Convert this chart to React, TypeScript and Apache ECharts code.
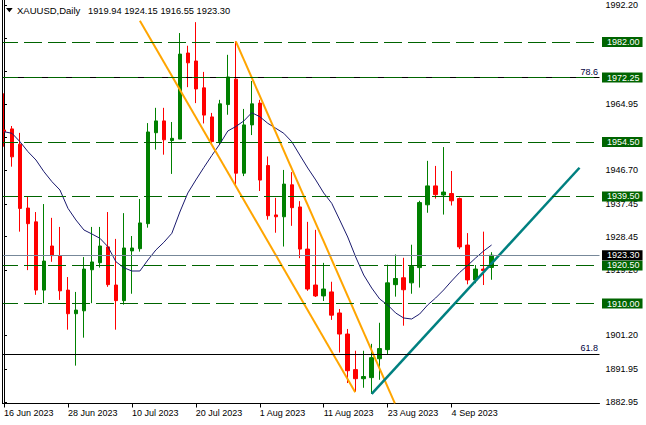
import { useEffect, useRef } from "react";
import * as echarts from "echarts";

// ---- data ----
const symbol = "XAUUSD";
const timeframe = "Daily";

const dates = [
  "16 Jun 2023", "19 Jun 2023", "20 Jun 2023", "21 Jun 2023", "22 Jun 2023", "23 Jun 2023", "26 Jun 2023", "27 Jun 2023",
  "28 Jun 2023", "29 Jun 2023", "30 Jun 2023", "3 Jul 2023", "4 Jul 2023", "5 Jul 2023", "6 Jul 2023", "7 Jul 2023",
  "10 Jul 2023", "11 Jul 2023", "12 Jul 2023", "13 Jul 2023", "14 Jul 2023", "17 Jul 2023", "18 Jul 2023", "19 Jul 2023",
  "20 Jul 2023", "21 Jul 2023", "24 Jul 2023", "25 Jul 2023", "26 Jul 2023", "27 Jul 2023", "28 Jul 2023", "31 Jul 2023",
  "1 Aug 2023", "2 Aug 2023", "3 Aug 2023", "4 Aug 2023", "7 Aug 2023", "8 Aug 2023", "9 Aug 2023", "10 Aug 2023",
  "11 Aug 2023", "14 Aug 2023", "15 Aug 2023", "16 Aug 2023", "17 Aug 2023", "18 Aug 2023", "21 Aug 2023", "22 Aug 2023",
  "23 Aug 2023", "24 Aug 2023", "25 Aug 2023", "28 Aug 2023", "29 Aug 2023", "30 Aug 2023", "31 Aug 2023", "1 Sep 2023",
  "4 Sep 2023", "5 Sep 2023", "6 Sep 2023", "7 Sep 2023", "8 Sep 2023", "11 Sep 2023",
];
const emptySlots = 13;

const opens = [
  1957.8, 1958.1, 1953.9, 1936.3, 1932.5, 1913.7, 1925.85, 1923.2, 1913.7, 1907.2,
  1908.0, 1919.3, 1921.25, 1925.6, 1915.1, 1910.8, 1924.5, 1925.1, 1932.0, 1957.05,
  1960.3, 1954.9, 1955.3, 1979.0, 1976.8, 1969.4, 1961.4, 1954.6, 1964.8, 1971.8,
  1945.9, 1959.2, 1965.2, 1948.0, 1934.4, 1933.9, 1942.7, 1936.6, 1925.0, 1915.1,
  1912.1, 1913.2, 1907.4, 1901.6, 1891.8, 1889.3, 1889.6, 1894.8, 1897.3, 1915.2,
  1917.1, 1915.7, 1919.9, 1937.2, 1942.4, 1939.9, 1940.3, 1938.9, 1926.1, 1916.5,
  1919.5, 1919.94,
];
const highs = [
  1967.9, 1958.9, 1957.0, 1939.4, 1935.2, 1937.4, 1933.6, 1931.1, 1917.3, 1913.2,
  1922.8, 1931.1, 1931.1, 1935.2, 1927.8, 1934.9, 1928.6, 1938.8, 1959.7, 1963.9,
  1963.9, 1960.0, 1984.5, 1981.0, 1987.5, 1973.8, 1962.5, 1966.1, 1978.5, 1982.2,
  1963.6, 1971.3, 1966.1, 1950.5, 1939.1, 1946.8, 1946.2, 1938.2, 1932.5, 1930.3,
  1921.2, 1916.0, 1908.5, 1903.0, 1897.0, 1897.0, 1898.9, 1904.7, 1920.7, 1923.5,
  1922.6, 1926.2, 1938.3, 1949.3, 1947.9, 1953.1, 1946.5, 1939.2, 1929.4, 1920.6,
  1929.8, 1924.15,
];
const lows = [
  1953.2, 1947.7, 1929.8, 1919.2, 1912.4, 1910.1, 1921.5, 1911.0, 1902.8, 1892.9,
  1900.6, 1910.1, 1919.9, 1914.6, 1902.8, 1909.7, 1912.7, 1924.3, 1930.9, 1952.4,
  1951.0, 1945.7, 1955.3, 1969.6, 1965.2, 1959.6, 1953.7, 1953.7, 1962.0, 1942.6,
  1945.1, 1956.4, 1941.0, 1933.1, 1929.5, 1925.7, 1931.4, 1922.5, 1913.5, 1911.8,
  1910.7, 1905.5, 1896.5, 1888.1, 1885.7, 1886.8, 1885.1, 1889.0, 1896.0, 1911.9,
  1903.9, 1912.7, 1914.4, 1935.0, 1938.9, 1934.5, 1937.0, 1925.0, 1915.3, 1915.6,
  1915.1, 1916.55,
];
const closes = [
  1957.3, 1950.4, 1936.2, 1932.0, 1913.7, 1921.7, 1923.2, 1913.5, 1907.2, 1908.2,
  1919.5, 1921.45, 1925.85, 1915.2, 1910.8, 1925.3, 1925.3, 1932.2, 1957.25, 1960.3,
  1955.1, 1955.5, 1978.7, 1976.3, 1969.1, 1961.9, 1954.6, 1965.0, 1972.4, 1945.9,
  1959.2, 1965.0, 1944.0, 1934.2, 1933.9, 1942.9, 1936.4, 1925.0, 1914.0, 1912.1,
  1914.0, 1906.8, 1901.6, 1891.5, 1889.3, 1889.9, 1895.1, 1897.6, 1915.7, 1916.9,
  1913.8, 1920.2, 1937.8, 1942.4, 1940.0, 1940.7, 1938.3, 1925.6, 1916.5, 1919.5,
  1919.1, 1923.3,
];
const maValues = [
  1957.33, 1956.89, 1954.57, 1951.82, 1949.53, 1946.31, 1943.56, 1941.27, 1936.23, 1933.01,
  1930.26, 1929.15, 1927.97, 1925.66, 1921.52, 1919.87, 1918.96, 1918.96, 1921.99, 1924.75,
  1926.87, 1929.35, 1935.21, 1940.45, 1944.03, 1947.47, 1950.77, 1953.94, 1957.52, 1958.76,
  1960.28, 1962.56, 1961.46, 1959.64, 1958.27, 1956.89, 1954.57, 1950.91, 1947.33, 1944.03,
  1940.45, 1937.61, 1933.01, 1928.33, 1922.82, 1917.86, 1914.28, 1911.25, 1909.6, 1907.4,
  1906.02, 1905.74, 1907.12, 1909.6, 1911.53, 1913.73, 1916.21, 1918.55, 1920.48, 1922.54,
  1924.47, 1926.12,
];
// all tick marks on the price scale
const yTicks = [
  1992.2, 1982.95, 1973.95, 1964.95, 1955.7, 1946.7, 1937.45, 1928.45, 1919.2, 1910.2, 1901.2, 1891.95, 1882.95,
];
// tick labels that are not hidden behind the level boxes
const yTickLabels = [1992.2, 1964.95, 1946.7, 1937.45, 1928.45, 1919.2, 1901.2, 1891.95, 1882.95];
const dashedLevels = [1982.0, 1972.25, 1954.5, 1939.5, 1920.5, 1910.0];
const fibValues = [1972.25, 1896.0];
const fibNames = ["78.6", "61.8"];
const fibBoxLevels = [1896.0];
const bidPrice = 1923.3;
// trend lines: [bar position, price]
const orangeLineA = [[17, 1987.9], [43.94, 1885.6]];
const orangeLineB = [[29, 1982.2], [48.9, 1882.5]];
const tealLine = [[46, 1885.1], [72, 1947.4]];

const Y_MAX = 1993.6;
const Y_MIN = 1882.47;
const FONT = '"Liberation Sans", Arial, sans-serif';

export default function App() {
  const ref = useRef<HTMLDivElement>(null);

  useEffect(() => {
    if (!ref.current) return;
    const chart = echarts.init(ref.current, undefined, { renderer: "svg" });
    const cats = [...dates, ...Array(emptySlots).fill("")];
    const showIdx = (i: number) => i % 8 === 0 && i < dates.length;
    const boxLabel = (bg: string) => ({
      show: true,
      position: "end",
      distance: 2.5,
      formatter: (p: any) => Number(p.value).toFixed(2),
      backgroundColor: bg,
      color: "#ffffff",
      fontSize: 9,
      fontFamily: FONT,
      lineHeight: 10,
      padding: [0, 3, 0, 5],
    });
    const markData: any[] = [];
    fibValues.forEach((v, i) => {
      markData.push({
        yAxis: v,
        lineStyle: { color: "#000000", width: 1, type: "solid" },
        label: {
          show: true,
          position: "insideEndTop",
          distance: 1.5,
          formatter: fibNames[i],
          color: "#000040",
          fontSize: 9,
          fontFamily: FONT,
        },
      });
    });
    dashedLevels.forEach((v) => {
      markData.push({
        yAxis: v,
        lineStyle: { color: "#006400", width: 1, type: [18, 6] },
        label: boxLabel("#006400"),
      });
    });
    fibBoxLevels.forEach((v) => {
      markData.push({
        yAxis: v,
        lineStyle: { color: "#000000", width: 1, opacity: 0 },
        label: boxLabel("#006400"),
      });
    });
    markData.push({
      yAxis: bidPrice,
      lineStyle: { color: "#778899", width: 1, type: "solid" },
      label: boxLabel("#000000"),
    });

    const last = dates.length - 1;
    const titleNums = [opens[last], highs[last], lows[last], closes[last]].map((v) => v.toFixed(2)).join(" ");

    chart.setOption({
      animation: false,
      backgroundColor: "#ffffff",
      textStyle: { fontFamily: FONT },
      grid: { left: -0.5, top: 0, width: 600, height: 403.5 },
      xAxis: [
        {
          type: "category",
          data: cats,
          boundaryGap: true,
          axisLine: { show: true, lineStyle: { color: "#000000", width: 1 } },
          axisTick: { show: true, alignWithLabel: true, interval: (i: number) => showIdx(i), length: 4, lineStyle: { color: "#000000" } },
          axisLabel: {
            show: true,
            interval: (i: number) => showIdx(i),
            align: "left",
            margin: 5,
            fontSize: 9,
            color: "#000000",
            fontFamily: FONT,
          },
          splitLine: { show: false },
        },
        { type: "value", min: -0.5, max: 74.5, show: false },
      ],
      yAxis: {
        type: "value",
        position: "right",
        min: Y_MIN,
        max: Y_MAX,
        axisLine: { show: true, lineStyle: { color: "#000000", width: 1 } },
        axisTick: { show: true, length: 3, customValues: yTicks, lineStyle: { color: "#000000" } },
        axisLabel: {
          show: true,
          customValues: yTickLabels,
          formatter: (v: number) => Number(v).toFixed(2),
          margin: 6,
          fontSize: 9,
          color: "#000000",
          fontFamily: FONT,
        },
        splitLine: { show: false },
      },
      series: [
        {
          type: "candlestick",
          xAxisIndex: 0,
          data: opens.map((o, i) => [o, closes[i], lows[i], highs[i]]),
          barWidth: 4,
          itemStyle: {
            color: "#008000",
            color0: "#ff0000",
            borderColor: "#008000",
            borderColor0: "#ff0000",
            borderWidth: 1,
          },
          z: 2,
        },
        {
          type: "line",
          xAxisIndex: 0,
          data: maValues,
          symbol: "none",
          lineStyle: { color: "#1a1a6e", width: 1 },
          z: 3,
        },
        {
          type: "line",
          xAxisIndex: 1,
          data: orangeLineA,
          symbol: "none",
          lineStyle: { color: "#ffa500", width: 2 },
          z: 4,
        },
        {
          type: "line",
          xAxisIndex: 1,
          data: orangeLineB,
          symbol: "none",
          lineStyle: { color: "#ffa500", width: 2 },
          z: 4,
        },
        {
          type: "line",
          xAxisIndex: 1,
          data: tealLine,
          symbol: "none",
          lineStyle: { color: "#008080", width: 2.5 },
          z: 4,
        },
        {
          type: "line",
          xAxisIndex: 0,
          data: [],
          symbol: "none",
          z: 5,
          markLine: {
            silent: true,
            symbol: ["none", "none"],
            precision: 2,
            data: markData,
          },
        },
      ],
      graphic: [
        { type: "rect", left: 0, top: 0, shape: { x: 0, y: 0, width: 2, height: 404 }, style: { fill: "#ffffff" }, z: 100 },
        { type: "line", shape: { x1: 2.5, y1: 0, x2: 2.5, y2: 404 }, style: { stroke: "#000000", lineWidth: 1 }, z: 101 },
        { type: "polygon", shape: { points: [[6, 8], [12.7, 8], [9.35, 12.2]] }, style: { fill: "#000000" }, z: 101 },
        {
          type: "text",
          x: 17,
          y: 10.8,
          style: { text: `${symbol},${timeframe}`, fill: "#000000", font: `9.5px ${FONT}`, verticalAlign: "middle" },
          z: 101,
        },
        {
          type: "text",
          x: 88,
          y: 10.8,
          style: { text: titleNums, fill: "#000000", font: `9.3px ${FONT}`, verticalAlign: "middle" },
          z: 101,
        },
      ],
    });
    return () => chart.dispose();
  }, []);

  return (
    <div
      ref={ref}
      style={{ position: "fixed", left: 0, top: 0, width: 646, height: 425, background: "#ffffff" }}
    />
  );
}
